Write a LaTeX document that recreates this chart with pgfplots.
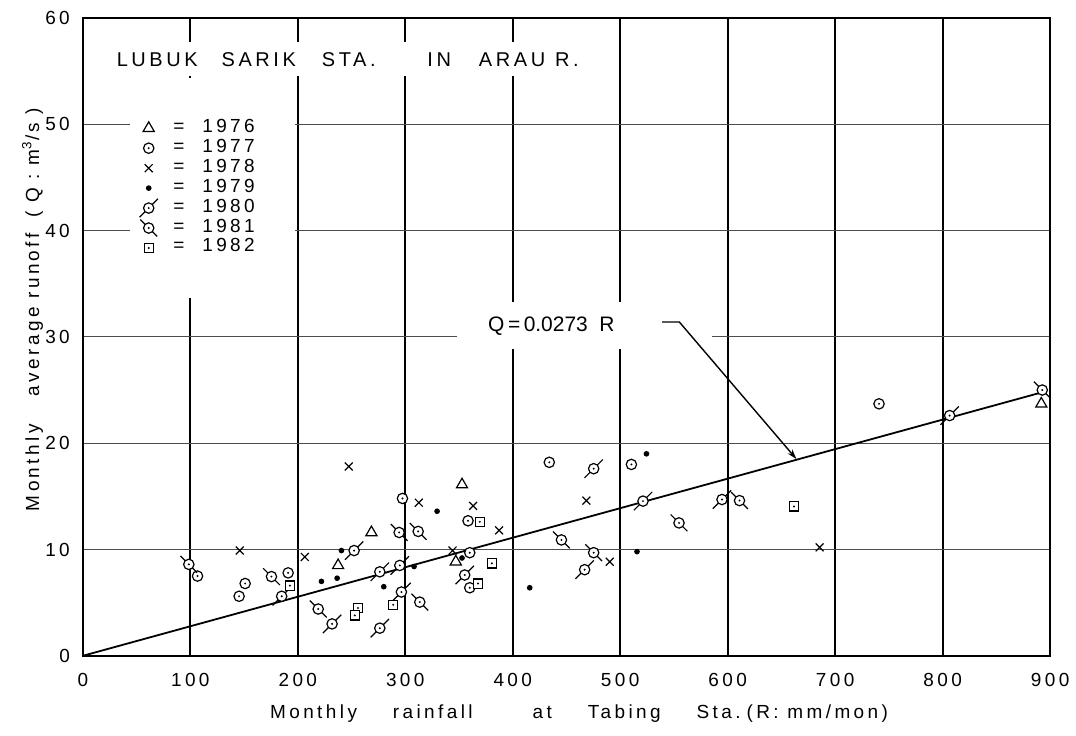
\documentclass[border=0pt]{standalone}
\usepackage{fontspec}
\setmainfont{Liberation Sans}
\newfontfamily\lab[LetterSpace=18]{Liberation Sans}
\usepackage{pgfplots}
\pgfplotsset{compat=1.18}
\usetikzlibrary{arrows.meta}

% year markers (white inside, dot in the middle)
\pgfdeclareplotmark{o77}{%
  \pgfsetfillcolor{white}%
  \pgfpathcircle{\pgfpointorigin}{2.6pt}\pgfusepathqfillstroke
  \pgfsetfillcolor{black}%
  \pgfpathcircle{\pgfpointorigin}{0.55pt}\pgfusepathqfill}
\pgfdeclareplotmark{o80}{%
  \pgfpathmoveto{\pgfpoint{-4.6pt}{-4.6pt}}\pgfpathlineto{\pgfpoint{4.6pt}{4.6pt}}%
  \pgfusepathqstroke
  \pgfsetfillcolor{white}%
  \pgfpathcircle{\pgfpointorigin}{2.6pt}\pgfusepathqfillstroke
  \pgfsetfillcolor{black}%
  \pgfpathcircle{\pgfpointorigin}{0.55pt}\pgfusepathqfill}
\pgfdeclareplotmark{o81}{%
  \pgfpathmoveto{\pgfpoint{-4.2pt}{4.2pt}}\pgfpathlineto{\pgfpoint{4.2pt}{-4.2pt}}%
  \pgfusepathqstroke
  \pgfsetfillcolor{white}%
  \pgfpathcircle{\pgfpointorigin}{2.6pt}\pgfusepathqfillstroke
  \pgfsetfillcolor{black}%
  \pgfpathcircle{\pgfpointorigin}{0.55pt}\pgfusepathqfill}
\pgfdeclareplotmark{s82}{%
  \pgfsetfillcolor{white}%
  \pgfpathrectanglecorners{\pgfpoint{-2.3pt}{-2.3pt}}{\pgfpoint{2.3pt}{2.3pt}}\pgfusepathqfillstroke
  \pgfsetfillcolor{black}%
  \pgfpathcircle{\pgfpointorigin}{0.55pt}\pgfusepathqfill}

\begin{document}
\begin{tikzpicture}
\begin{axis}[
    scale only axis,
    width=484.5pt, height=319.5pt,
    xmin=0, xmax=900, ymin=0, ymax=60,
    xtick={0,100,...,900}, ytick={0,10,...,60},
    grid=major,
    x grid style={black, line width=0.9pt},
    y grid style={black!70, line width=0.5pt},
    axis line style={line width=1pt},
    major tick length=0pt,
    tick label style={font=\lab\fontsize{9.5}{11}\selectfont},
    /pgf/number format/assume math mode=true,
    xticklabel style={yshift=-5pt},
    yticklabel style={xshift=-3pt},
    xlabel={Monthly\hspace{18pt}rainfall\hspace{30pt}at\hspace{18pt}Tabing\hspace{18pt}Sta.\hspace{3pt}(R: mm/mon)},
    xlabel style={font=\lab\fontsize{9.5}{11}\selectfont, at={(axis description cs:0.513,-0.091)}, anchor=center},
    ylabel={Monthly\hspace{14pt}average runoff\hspace{8pt}( Q : m\textsuperscript{3}/s )},
    ylabel style={font=\lab\fontsize{9.5}{11}\selectfont, at={(axis description cs:-0.052,0.543)}, anchor=center},
    legend style={at={(axis description cs:0.0485,0.906)}, anchor=north west,
                  fill=white, draw=none, inner xsep=4pt, inner ysep=20pt,
                  font=\lab\fontsize{9.5}{10}\selectfont, row sep=0pt,
                  nodes={inner ysep=0pt, text height=7pt, text depth=3pt}},
    legend cell align=left,
    legend image code/.code={\path (-5pt,0pt) (5pt,0pt);
                             \draw[#1] plot coordinates {(0pt,0pt)};},
    every axis plot/.append style={line width=0.6pt},
    clip=false,
]

% regression line Q = 0.0273 R
\addplot[black, line width=0.9pt, forget plot] coordinates {(0,0) (893,24.8)};

% 1976
\addplot[only marks, mark=triangle, mark size=3.2pt, mark options={fill=white}]
    coordinates {(268.5,11.6) (237.5,8.5) (352.8,16.1) (347,8.85) (891.8,23.7)};
\addlegendentry{\hspace{5pt}=\hspace{9pt}1976\hspace*{14pt}}

% 1977
\addplot[only marks, mark=o77]
    coordinates {(106.7,7.5) (151,6.8) (145.4,5.6) (191,7.8) (297.4,14.8)
                 (358.4,12.7) (360,9.7) (360,6.4) (434,18.2) (510.4,18.0) (740.8,23.7)};
\addlegendentry{\hspace{5pt}=\hspace{9pt}1977\hspace*{14pt}}

% 1978
\addplot[only marks, mark=x, mark size=2.8pt]
    coordinates {(146,9.9) (206.5,9.3) (247.4,17.8) (312.6,14.4) (363.1,14.1)
                 (387.3,11.8) (344,9.9) (468.5,14.6) (490.2,8.85) (685.6,10.2)};
\addlegendentry{\hspace{5pt}=\hspace{9pt}1978\hspace*{14pt}}

% 1979
\addplot[only marks, mark=*, mark size=1.1pt]
    coordinates {(222,7.0) (236.6,7.3) (240.6,9.9) (280,6.5) (308.2,8.4)
                 (329.6,13.6) (352.8,9.2) (415.8,6.4) (515.6,9.8) (524.4,19.0)};
\addlegendentry{\hspace{5pt}=\hspace{9pt}1979\hspace*{14pt}}

% 1980
\addplot[only marks, mark=o80]
    coordinates {(185,5.6) (252.4,9.9) (276.3,7.9) (294.9,8.5) (296.4,6.0)
                 (231.9,3.0) (276.3,2.6) (355.3,7.6) (475.3,17.6) (521.2,14.55)
                 (466.9,8.1) (594.7,14.7) (806.5,22.6)};
\addlegendentry{\hspace{5pt}=\hspace{9pt}1980\hspace*{14pt}}

% 1981
\addplot[only marks, mark=o81]
    coordinates {(98.6,8.6) (175.5,7.45) (219,4.4) (294.3,11.6) (312,11.7)
                 (313.5,5.05) (554.7,12.5) (611,14.6) (445.3,10.9) (475.3,9.7)
                 (892.7,25.0)};
\addlegendentry{\hspace{5pt}=\hspace{9pt}1981\hspace*{14pt}}

% 1982
\addplot[only marks, mark=s82]
    coordinates {(192.6,6.6) (369.3,12.6) (380.6,8.7) (367.7,6.8) (288.7,4.8)
                 (256,4.5) (253,3.8) (661.7,14.05)};
\addlegendentry{\hspace{5pt}=\hspace{9pt}1982\hspace*{14pt}}

% title
\node[fill=white, inner xsep=2pt, inner ysep=5pt, font=\lab\fontsize{10}{11}\selectfont]
    at (axis cs:246.5,56.1)
    {LUBUK\hspace{12pt}SARIK\hspace{13pt}STA.\hspace{26pt}IN\hspace{14pt}ARAU\hspace{5pt}R.};

% equation label with leader
\fill[white] (axis cs:348.4,28.9) rectangle (axis cs:585.6,33.3);
\node[font=\fontsize{10.5}{12}\selectfont] at (axis cs:436,31.0) {Q\,=\,0.0273\ \ R};
\draw[line width=0.7pt, -{Stealth[length=5pt,width=3pt]}]
    (axis cs:539,31.4) -- (axis cs:555,31.4) -- (axis cs:664,18.5);

\end{axis}
\path ([shift={(-41.5pt,-40pt)}]current axis.south west)
    rectangle ([shift={(12pt,9pt)}]current axis.north east);
\end{tikzpicture}
\end{document}
